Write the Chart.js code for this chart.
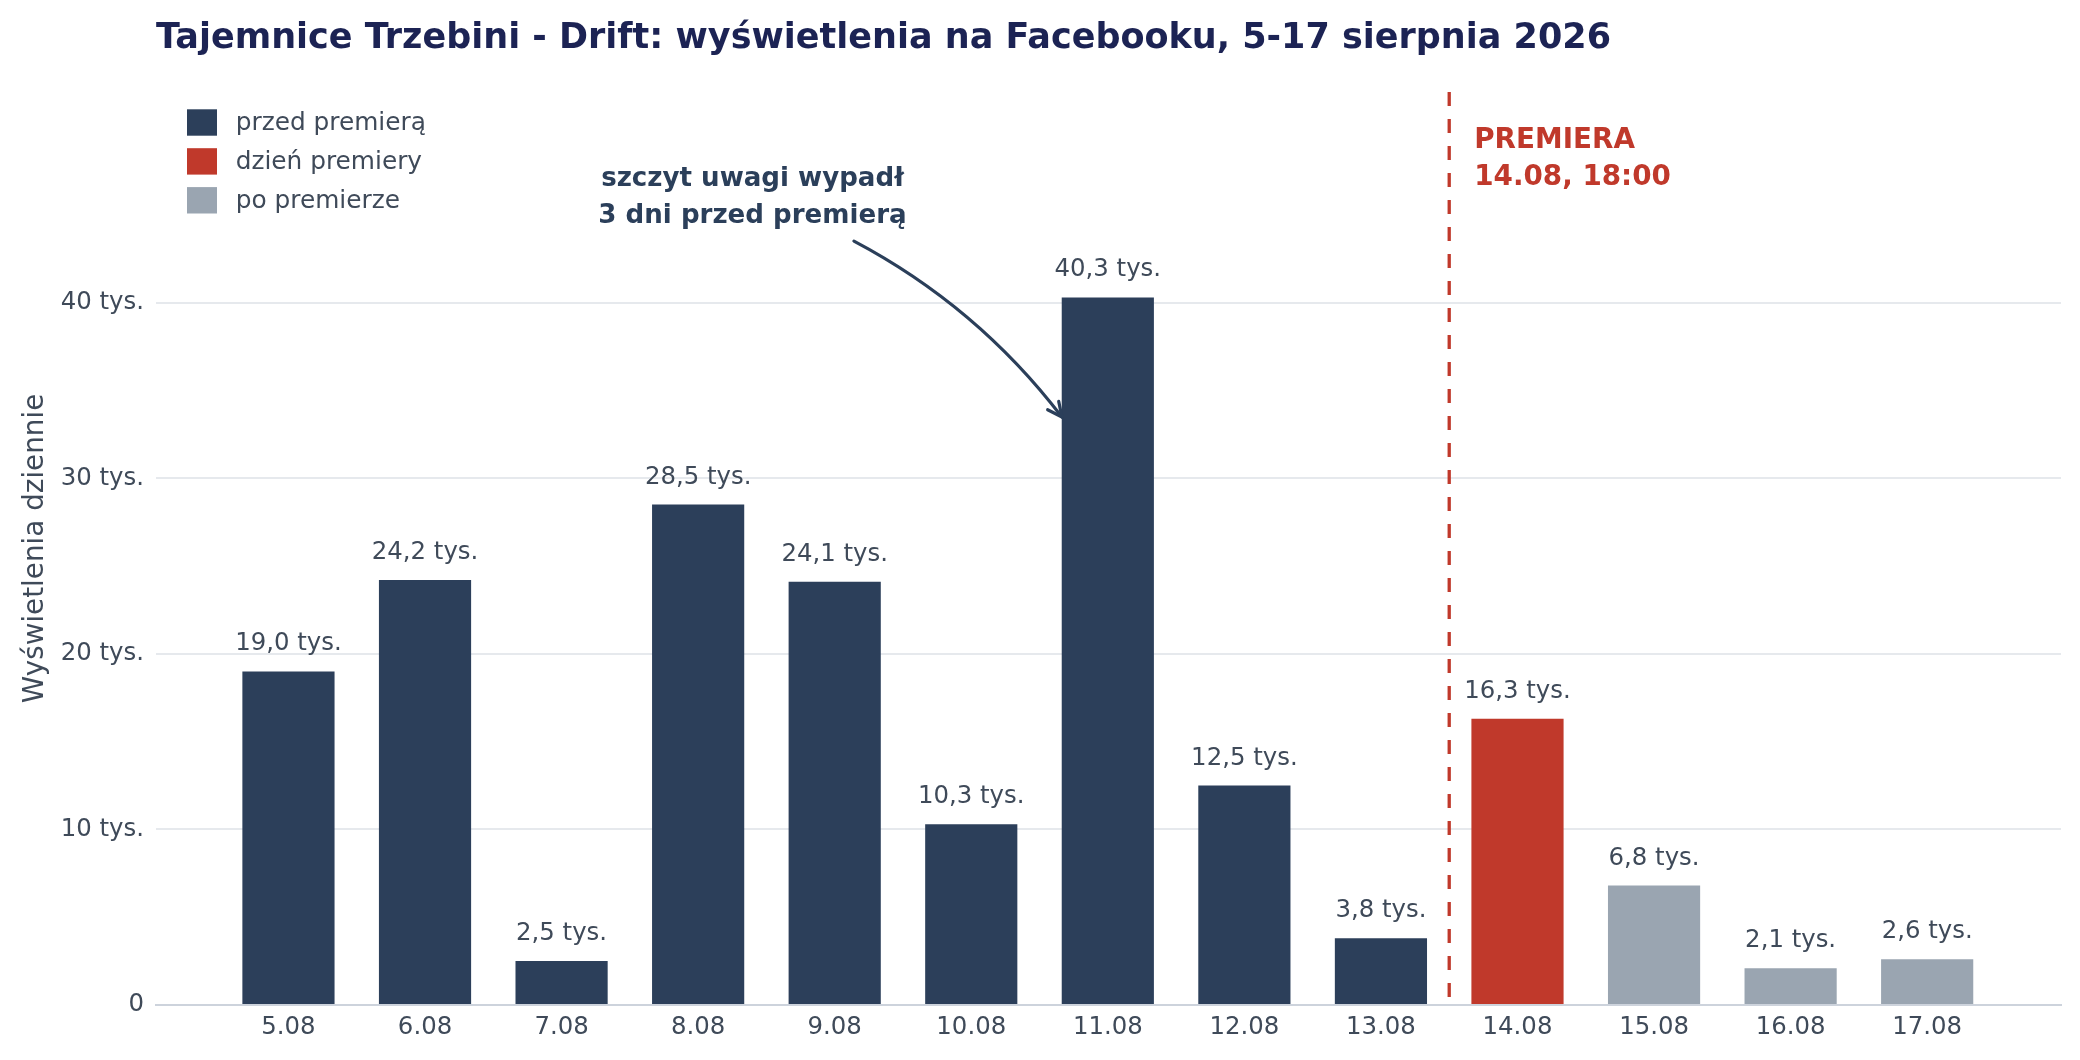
<!DOCTYPE html>
<html><head><meta charset="utf-8">
<script src="https://cdn.jsdelivr.net/npm/chart.js@4.4.1/dist/chart.umd.min.js"></script>
<style>html,body{margin:0;padding:0;background:#fff}canvas{display:block}</style>
</head><body>
<canvas id="c" width="2080" height="1060"></canvas>
<script>
// ---- data ----
const days = ['5.08','6.08','7.08','8.08','9.08','10.08','11.08','12.08','13.08','14.08','15.08','16.08','17.08'];
const views = [19.0, 24.2, 2.5, 28.5, 24.1, 10.3, 40.3, 12.5, 3.8, 16.3, 6.8, 2.1, 2.6];
const phase = ['pre','pre','pre','pre','pre','pre','pre','pre','pre','day','post','post','post'];
const phaseKeys = ['pre','day','post'];
const phaseLabels = ['przed premierą','dzień premiery','po premierze'];
const yTicks = [0, 10, 20, 30, 40];
const premiereIdx = 9;
const titleText = 'Tajemnice Trzebini - Drift: wyświetlenia na Facebooku, 5-17 sierpnia 2026';
const yTitle = 'Wyświetlenia dziennie';
const noteLines = ['szczyt uwagi wypadł', '3 dni przed premierą'];
const premiereLines = ['PREMIERA', '14.08, 18:00'];

// ---- styles ----
const FONT = 'DejaVu Sans';
const colors = {pre:'#2c3f5a', day:'#c0392b', post:'#9aa5b1'};
const textCol = '#3f4a59';
Chart.defaults.font.family = FONT;

const fmt = v => v.toFixed(1).replace('.', ',') + ' tys.';

const annot = {
  id: 'annot',
  afterDraw(chart) {
    const {ctx, chartArea: a, scales: {x, y}} = chart;
    ctx.save();
    // title
    ctx.font = `bold 35px "${FONT}"`;
    ctx.fillStyle = '#1c2354';
    ctx.textAlign = 'left';
    ctx.textBaseline = 'alphabetic';
    ctx.fillText(titleText, a.left, 48);

    // legend
    ctx.font = `24.8px "${FONT}"`;
    phaseKeys.forEach((k, i) => {
      const cy = a.top + 30.5 + i * 38.9;
      ctx.fillStyle = colors[k];
      ctx.fillRect(a.left + 31, cy - 13.2, 30, 26.4);
      ctx.fillStyle = textCol;
      ctx.fillText(phaseLabels[i], a.left + 79.7, cy + 7.5);
    });

    // value labels
    ctx.font = `24.4px "${FONT}"`;
    ctx.textAlign = 'center';
    ctx.fillStyle = textCol;
    const meta = chart.getDatasetMeta(0);
    meta.data.forEach((bar, i) => {
      ctx.fillText(fmt(views[i]), bar.x, bar.y - 21);
    });

    // premiere line
    const px = x.getPixelForValue(premiereIdx - 0.5);
    ctx.save();
    ctx.setLineDash([14, 13]);
    ctx.lineWidth = 3.3;
    ctx.strokeStyle = colors.day;
    ctx.beginPath();
    ctx.moveTo(px, a.top);
    ctx.lineTo(px, a.bottom);
    ctx.stroke();
    ctx.restore();

    // premiere text
    ctx.font = `bold 27.8px "${FONT}"`;
    ctx.fillStyle = colors.day;
    ctx.textAlign = 'left';
    ctx.fillText(premiereLines[0], px + 25, y.getPixelForValue(48.8));
    ctx.fillText(premiereLines[1], px + 25, y.getPixelForValue(46.7));

    // note text
    ctx.font = `bold 26.1px "${FONT}"`;
    ctx.fillStyle = '#2b3f5a';
    ctx.textAlign = 'center';
    const nx = x.getPixelForValue(3.398);
    ctx.fillText(noteLines[0], nx, y.getPixelForValue(46.66));
    ctx.fillText(noteLines[1], nx, y.getPixelForValue(44.55));

    // arrow
    const S = [x.getPixelForValue(4.141), y.getPixelForValue(43.51)];
    const C = [x.getPixelForValue(5.042), y.getPixelForValue(39.81)];
    const E = [x.getPixelForValue(5.664), y.getPixelForValue(33.49)];
    ctx.strokeStyle = '#2b3f5a';
    ctx.lineWidth = 3.2;
    ctx.lineCap = 'round';
    ctx.beginPath();
    ctx.moveTo(S[0], S[1]);
    ctx.quadraticCurveTo(C[0], C[1], E[0], E[1]);
    ctx.stroke();
    const dx = E[0] - C[0], dy = E[1] - C[1];
    const ang = Math.atan2(dy, dx);
    const L = 16, th = 0.45;
    ctx.beginPath();
    ctx.moveTo(E[0] - L * Math.cos(ang - th), E[1] - L * Math.sin(ang - th));
    ctx.lineTo(E[0], E[1]);
    ctx.lineTo(E[0] - L * Math.cos(ang + th), E[1] - L * Math.sin(ang + th));
    ctx.stroke();
    ctx.restore();
  }
};

new Chart(document.getElementById('c').getContext('2d'), {
  type: 'bar',
  data: {
    datasets: [{
      data: views.map((v, i) => ({x: i, y: v})),
      backgroundColor: phase.map(p => colors[p]),
      borderWidth: 0,
      categoryPercentage: 1,
      barPercentage: 0.675
    }]
  },
  options: {
    responsive: false,
    animation: false,
    devicePixelRatio: 1,
    layout: {padding: {top: 92, right: 19, left: 0, bottom: 0}},
    plugins: {legend: {display: false}, tooltip: {enabled: false}, title: {display: false}},
    scales: {
      x: {
        type: 'linear',
        offset: false,
        min: -0.97,
        max: 12.98,
        grid: {display: false, drawTicks: false, offset: false},
        border: {display: true, color: '#cdd3dc', width: 2},
        afterBuildTicks: s => { s.ticks = days.map((_, i) => ({value: i})); },
        afterFit: s => { s.height = 55; },
        ticks: {
          autoSkip: false, maxRotation: 0, padding: 8,
          color: textCol, font: {size: 24.4},
          callback: v => (days[v] !== undefined ? days[v] : '')
        }
      },
      y: {
        min: 0,
        max: 52,
        afterBuildTicks: s => { s.ticks = yTicks.map(v => ({value: v})); },
        afterFit: s => { s.width = 156; },
        grid: {
          color: c => (c.tick && c.tick.value === 0 ? 'rgba(0,0,0,0)' : '#e6e9ed'),
          lineWidth: 2, drawTicks: false
        },
        border: {display: false},
        ticks: {
          padding: 12, color: textCol, font: {size: 24.4},
          callback: v => (v === 0 ? '0' : v + ' tys.')
        },
        title: {
          display: true, text: yTitle, color: textCol,
          font: {size: 27.8}, padding: {top: 19.5, bottom: 0}
        }
      }
    }
  },
  plugins: [annot]
});
</script>
</body></html>
